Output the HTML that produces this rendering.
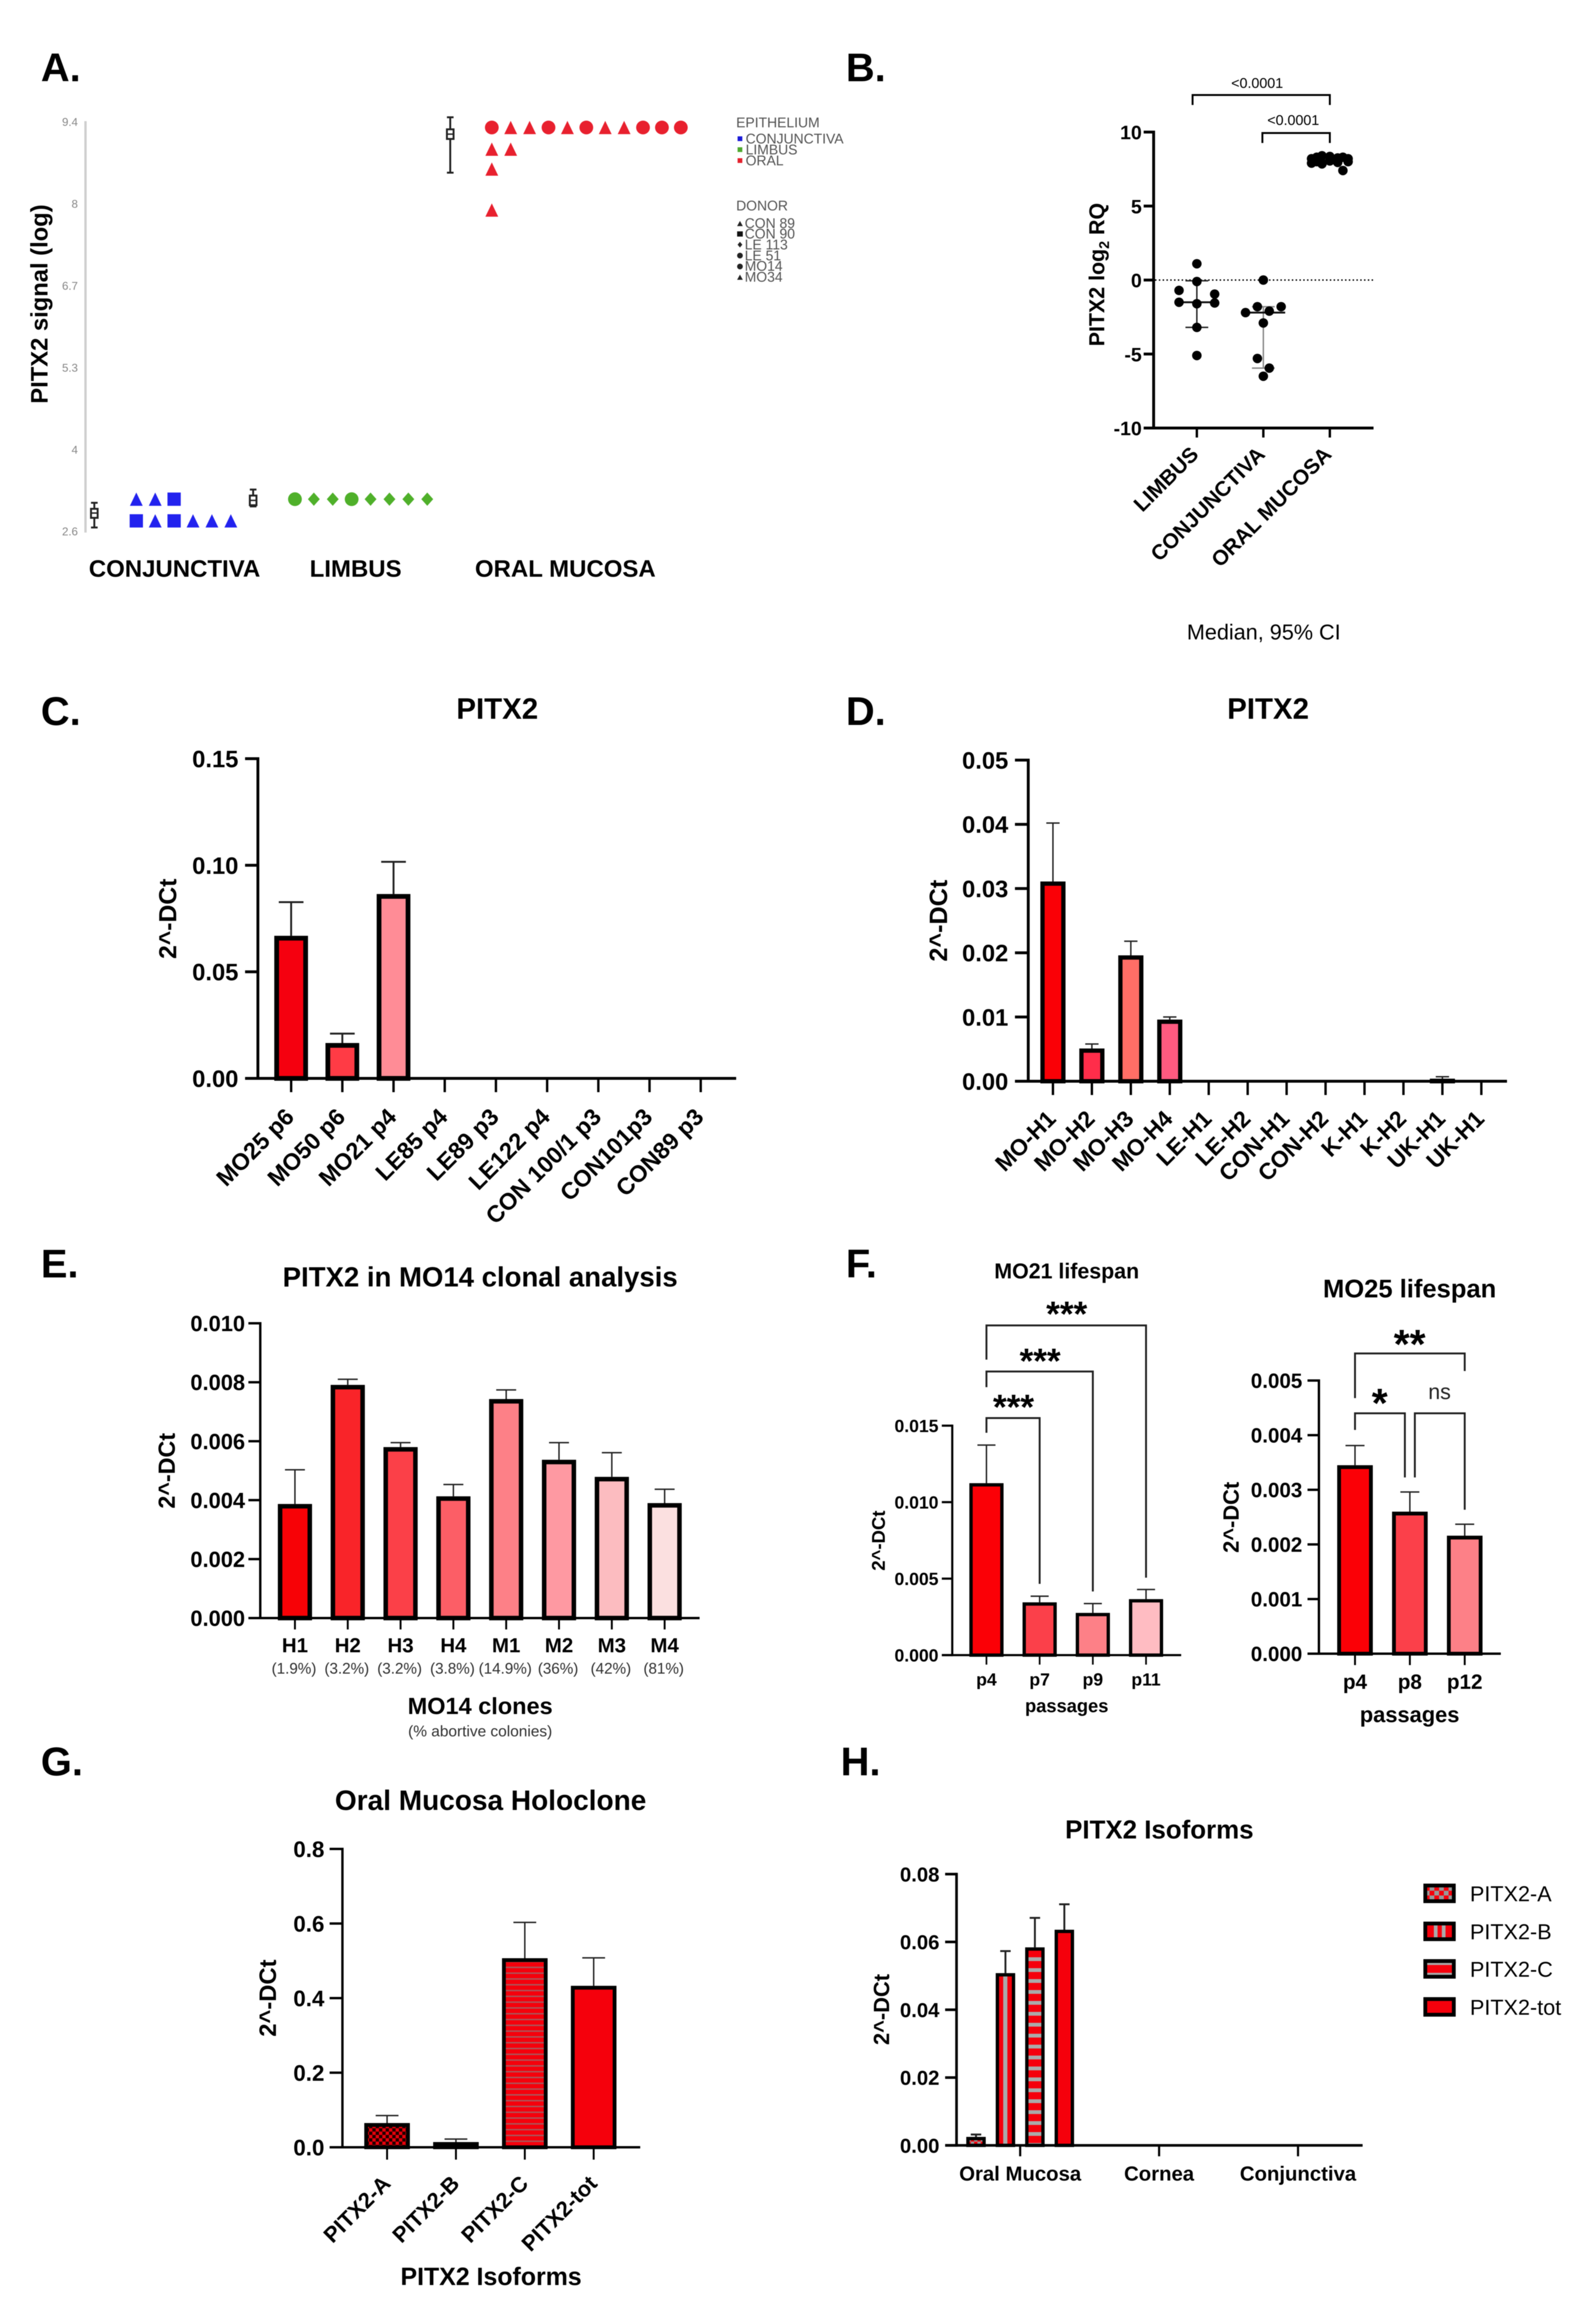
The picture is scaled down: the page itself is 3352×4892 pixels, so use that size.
<!DOCTYPE html>
<html lang="en">
<head>
<meta charset="utf-8">
<title>PITX2 expression figure</title>
<style>
html,body{margin:0;padding:0;background:#fff;}
svg{display:block;font-family:"Liberation Sans",Arial,sans-serif;filter:blur(0.7px);}
text{fill:#000;}
.pl{font-size:84px;font-weight:700;}
.b{font-weight:700;}
</style>
</head>
<body>
<svg id="fig" xmlns="http://www.w3.org/2000/svg" width="3352" height="4892" viewBox="0 0 3352 4892">
<defs>
<pattern id="checkG" width="14" height="14" patternUnits="userSpaceOnUse"><rect width="14" height="14" fill="#e8000a"/><rect width="7" height="7" fill="#200"/><rect x="7" y="7" width="7" height="7" fill="#200"/></pattern>
<pattern id="stripeG" width="12.2" height="12.2" patternUnits="userSpaceOnUse"><rect width="12.2" height="12.2" fill="#f5000c"/><rect y="4" width="12.2" height="3" fill="#a8585c"/></pattern>
<pattern id="checkH" width="14" height="14" patternUnits="userSpaceOnUse"><rect width="14" height="14" fill="#f5000c"/><rect width="7" height="7" fill="#999"/><rect x="7" y="7" width="7" height="7" fill="#999"/></pattern>
<pattern id="legA" width="20" height="20" patternUnits="userSpaceOnUse"><rect width="20" height="20" fill="#f5000c"/><rect width="10" height="10" fill="#999"/><rect x="10" y="10" width="10" height="10" fill="#999"/></pattern>
<pattern id="vertH" width="1" height="1" patternContentUnits="objectBoundingBox"><rect width="1" height="1" fill="#f5000c"/><rect x="0.36" width="0.26" height="1" fill="#aaa"/></pattern>
<pattern id="horzH" width="23" height="23" patternUnits="userSpaceOnUse"><rect width="23" height="23" fill="#f5000c"/><rect y="3" width="23" height="8" fill="#aaa"/></pattern>
<pattern id="legB" width="1" height="1" patternContentUnits="objectBoundingBox"><rect width="1" height="1" fill="#f5000c"/><rect x="0.3" width="0.13" height="1" fill="#aaa"/><rect x="0.58" width="0.13" height="1" fill="#aaa"/></pattern>
<pattern id="legC" width="1" height="1" patternContentUnits="objectBoundingBox"><rect width="1" height="1" fill="#f5000c"/><rect width="1" height="0.25" fill="#aaa"/><rect y="0.75" width="1" height="0.25" fill="#aaa"/></pattern>
</defs>

<text class="pl" x="86" y="171">A.</text>
<text class="pl" x="1781" y="171">B.</text>
<text class="pl" x="86" y="1526">C.</text>
<text class="pl" x="1781" y="1526">D.</text>
<text class="pl" x="86" y="2689">E.</text>
<text class="pl" x="1781" y="2689">F.</text>
<text class="pl" x="86" y="3737">G.</text>
<text class="pl" x="1770" y="3737">H.</text>

<g id="panel-a">
  <text class="b" font-size="50" text-anchor="middle" transform="translate(100,640) rotate(-90)">PITX2 signal (log)</text>
  <g font-size="29.3">
    <text style="fill:#555" x="1550" y="268">EPITHELIUM</text>
    <rect x="1553" y="287" width="10" height="10" fill="#1a1ad8"/><text style="fill:#555" x="1570" y="302">CONJUNCTIVA</text>
    <rect x="1553" y="310" width="10" height="10" fill="#4fa82e"/><text style="fill:#555" x="1570" y="325">LIMBUS</text>
    <rect x="1553" y="333" width="10" height="10" fill="#e3202c"/><text style="fill:#555" x="1570" y="348">ORAL</text>
  </g>
  <g font-size="29.3">
    <text style="fill:#555" x="1550" y="443">DONOR</text>
    <polygon points="1552,476 1564,476 1558,465" fill="#222"/><text style="fill:#555" x="1568" y="480">CON 89</text>
    <rect x="1552" y="487" width="12" height="11" fill="#111"/><text style="fill:#555" x="1568" y="502">CON 90</text>
    <polygon points="1558,509 1563,515 1558,521 1553,515" fill="#222"/><text style="fill:#555" x="1568" y="525">LE 113</text>
    <circle cx="1558" cy="538" r="6" fill="#222"/><text style="fill:#555" x="1568" y="548">LE 51</text>
    <circle cx="1558" cy="561" r="6" fill="#222"/><text style="fill:#555" x="1568" y="570">MO14</text>
    <polygon points="1552,589 1564,589 1558,578" fill="#222"/><text style="fill:#555" x="1568" y="593">MO34</text>
  </g>
</g>

<g id="panel-b">
  <text class="b" font-size="45" text-anchor="middle" transform="translate(2325,578) rotate(-90)">PITX2 log<tspan font-size="30" dy="10">2</tspan><tspan dy="-10"> RQ</tspan></text>
  <path d="M2511,221 V200 H2800 V221" fill="none" stroke="#000" stroke-width="4"/>
  <text font-size="30" text-anchor="middle" x="2647" y="185">&lt;0.0001</text>
  <path d="M2658,301 V280 H2800 V301" fill="none" stroke="#000" stroke-width="4"/>
  <text font-size="30" text-anchor="middle" x="2723" y="263">&lt;0.0001</text>
  <text font-size="45.5" x="2499" y="1346">Median, 95% CI</text>
</g>

<g id="panel-c">
  <text class="b" font-size="62" text-anchor="middle" x="1047" y="1513">PITX2</text>
  <text class="b" font-size="52" text-anchor="middle" transform="translate(371,1934) rotate(-90)">2^-DCt</text>
</g>

<g id="panel-d">
  <text class="b" font-size="62" text-anchor="middle" x="2670" y="1513">PITX2</text>
  <text class="b" font-size="53" text-anchor="middle" transform="translate(1994,1938) rotate(-90)">2^-DCt</text>
</g>

<g id="panel-e">
  <text class="b" font-size="58" text-anchor="middle" x="1011" y="2708">PITX2 in MO14 clonal analysis</text>
  <text class="b" font-size="49" text-anchor="middle" transform="translate(368,3096) rotate(-90)">2^-DCt</text>
  <text class="b" font-size="49.5" text-anchor="middle" x="1011" y="3608">MO14 clones</text>
  <text font-size="32.5" text-anchor="middle" x="1011" y="3655" style="fill:#333">(% abortive colonies)</text>
</g>

<g id="panel-f1">
  <text class="b" font-size="45" text-anchor="middle" x="2246" y="2691">MO21 lifespan</text>
  <text class="b" font-size="39" text-anchor="middle" transform="translate(1863,3243) rotate(-90)">2^-DCt</text>
  <text class="b" font-size="38.5" text-anchor="middle" x="2246" y="3604">passages</text>
  <path d="M2077,3016 V2985 H2189 V3334" fill="none" stroke="#222" stroke-width="4"/>
  <path d="M2077,2920 V2887 H2301 V3350" fill="none" stroke="#222" stroke-width="4"/>
  <path d="M2077,2862 V2790 H2413 V3321" fill="none" stroke="#222" stroke-width="4"/>
  <text class="b" font-size="74" text-anchor="middle" x="2134" y="2987">***</text>
  <text class="b" font-size="74" text-anchor="middle" x="2190" y="2890">***</text>
  <text class="b" font-size="74" text-anchor="middle" x="2246" y="2791">***</text>
</g>

<g id="panel-f2">
  <text class="b" font-size="53.8" text-anchor="middle" x="2968" y="2731">MO25 lifespan</text>
  <text class="b" font-size="46" text-anchor="middle" transform="translate(2608,3194) rotate(-90)">2^-DCt</text>
  <text class="b" font-size="46" text-anchor="middle" x="2968" y="3625">passages</text>
  <path d="M2853,3010 V2975 H2958 V3110" fill="none" stroke="#222" stroke-width="4"/>
  <path d="M2979,3110 V2975 H3084 V3178" fill="none" stroke="#222" stroke-width="4"/>
  <path d="M2853,2943 V2849 H3084 V2886" fill="none" stroke="#222" stroke-width="4"/>
  <text class="b" font-size="86" text-anchor="middle" x="2968" y="2859">**</text>
  <text class="b" font-size="86" text-anchor="middle" x="2905" y="2983">*</text>
  <text font-size="45" text-anchor="middle" x="3031" y="2945" style="fill:#222">ns</text>
</g>

<g id="panel-g">
  <text class="b" font-size="59" text-anchor="middle" x="1033" y="3810">Oral Mucosa Holoclone</text>
  <text class="b" font-size="50" text-anchor="middle" transform="translate(581,4206) rotate(-90)">2^-DCt</text>
  <text class="b" font-size="52.4" text-anchor="middle" x="1034" y="4810">PITX2 Isoforms</text>
</g>

<g id="panel-h">
  <text class="b" font-size="54.5" text-anchor="middle" x="2441" y="3870">PITX2 Isoforms</text>
  <text class="b" font-size="46" text-anchor="middle" transform="translate(1872,4230) rotate(-90)">2^-DCt</text>
  <g font-size="45.5">
    <rect x="3001" y="3969" width="60" height="33" fill="url(#legA)" stroke="#000" stroke-width="8"/>
    <text x="3095" y="4002">PITX2-A</text>
    <rect x="3001" y="4049" width="60" height="33" fill="url(#legB)" stroke="#000" stroke-width="8"/>
    <text x="3095" y="4082">PITX2-B</text>
    <rect x="3001" y="4128" width="60" height="33" fill="url(#legC)" stroke="#000" stroke-width="8"/>
    <text x="3095" y="4161">PITX2-C</text>
    <rect x="3001" y="4208" width="60" height="33" fill="#f5000c" stroke="#000" stroke-width="8"/>
    <text x="3095" y="4241">PITX2-tot</text>
  </g>
</g>
</svg>

<script>
/* ---------- Panel A data ---------- */
const aTickValues = [9.4, 8.04, 6.68, 5.32, 3.96, 2.6];
const aTickLabels = ['9.4', '8', '6.7', '5.3', '4', '2.6'];
const aConjValues = [3.14, 3.14, 3.14, 2.78, 2.78, 2.78, 2.78, 2.78, 2.78];
const aConjShapes = ['triangle', 'triangle', 'square', 'square', 'triangle', 'square', 'triangle', 'triangle', 'triangle'];
const aLimbusValues = [3.14, 3.14, 3.14, 3.14, 3.14, 3.14, 3.14, 3.14];
const aLimbusShapes = ['circle', 'diamond', 'diamond', 'circle', 'diamond', 'diamond', 'diamond', 'diamond'];
const aOralValues = [9.31, 9.31, 9.31, 9.31, 9.31, 9.31, 9.31, 9.31, 9.31, 9.31, 9.31, 8.95, 8.95, 8.62, 7.94];
const aOralShapes = ['circle', 'triangle', 'triangle', 'circle', 'triangle', 'circle', 'triangle', 'triangle', 'circle', 'circle', 'circle', 'triangle', 'triangle', 'triangle', 'triangle'];
const aGroupLabels = ['CONJUNCTIVA', 'LIMBUS', 'ORAL MUCOSA'];
const aBoxLow = [2.67, 3.02, 8.56];
const aBoxQ1 = [2.83, 3.04, 9.12];
const aBoxMedian = [2.91, 3.12, 9.20];
const aBoxQ3 = [2.98, 3.20, 9.28];
const aBoxHigh = [3.08, 3.30, 9.48];

/* ---------- Panel B data ---------- */
const bTicks = ['10', '5', '0', '-5', '-10'];
const bCategories = ['LIMBUS', 'CONJUNCTIVA', 'ORAL MUCOSA'];
const bLimbus = [1.1, -0.7, -0.1, -0.95, -1.5, -1.6, -1.55, -3.2, -5.1];
const bConjunctiva = [0, -2.2, -1.8, -2.1, -1.8, -2.9, -5.3, -5.95, -6.5];
const bOral = [8.2, 8.3, 8.4, 8.35, 8.25, 8.3, 8.2, 7.9, 8.0, 7.85, 8.05, 7.95, 7.4, 8.0];
const bMedians = [-1.5, -2.2, 8.1];
const bCiLow = [-3.2, -5.95, 7.9];
const bCiHigh = [-0.05, -1.8, 8.3];

/* ---------- Panel C data ---------- */
const cTicks = ['0.15', '0.10', '0.05', '0.00'];
const cCategories = ['MO25 p6', 'MO50 p6', 'MO21 p4', 'LE85 p4', 'LE89 p3', 'LE122 p4', 'CON 100/1 p3', 'CON101p3', 'CON89 p3'];
const cValues = [0.0669, 0.0166, 0.0865, 0, 0, 0, 0, 0, 0];
const cUpper = [0.0827, 0.021, 0.1016, 0, 0, 0, 0, 0, 0];
const cFills = ['#f5000f', '#ff3b45', '#ff8c96'];

/* ---------- Panel D data ---------- */
const dTicks = ['0.05', '0.04', '0.03', '0.02', '0.01', '0.00'];
const dCategories = ['MO-H1', 'MO-H2', 'MO-H3', 'MO-H4', 'LE-H1', 'LE-H2', 'CON-H1', 'CON-H2', 'K-H1', 'K-H2', 'UK-H1', 'UK-H1'];
const dValues = [0.0311, 0.0051, 0.0196, 0.0096, 0, 0, 0, 0, 0, 0, 0.0004, 0];
const dUpper = [0.0402, 0.0058, 0.0218, 0.0100, 0, 0, 0, 0, 0, 0, 0.0007, 0];
const dFills = ['#fa0006', '#ff2d4a', '#ff6e66', '#ff5a80', '#000', '#000', '#000', '#000', '#000', '#000', '#000', '#000'];

/* ---------- Panel E data ---------- */
const eTicks = ['0.010', '0.008', '0.006', '0.004', '0.002', '0.000'];
const eCategories = ['H1', 'H2', 'H3', 'H4', 'M1', 'M2', 'M3', 'M4'];
const eSubLabels = ['(1.9%)', '(3.2%)', '(3.2%)', '(3.8%)', '(14.9%)', '(36%)', '(42%)', '(81%)'];
const eValues = [0.00387, 0.00791, 0.0058, 0.00413, 0.00743, 0.00537, 0.00479, 0.0039];
const eUpper = [0.00503, 0.0081, 0.00595, 0.00453, 0.00774, 0.00595, 0.00561, 0.00437];
const eFills = ['#f70206', '#f92429', '#fb4048', '#fc5e66', '#fd8087', '#fe99a2', '#fcbcc0', '#fbe0e0'];

/* ---------- Panel F data ---------- */
const f1Ticks = ['0.015', '0.010', '0.005', '0.000'];
const f1Categories = ['p4', 'p7', 'p9', 'p11'];
const f1Values = [0.01124, 0.00345, 0.00276, 0.00366];
const f1Upper = [0.01373, 0.00385, 0.00337, 0.00429];
const f1Fills = ['#fb0006', '#fb404a', '#fd8087', '#ffbcc2'];
const f2Ticks = ['0.005', '0.004', '0.003', '0.002', '0.001', '0.000'];
const f2Categories = ['p4', 'p8', 'p12'];
const f2Values = [0.00345, 0.0026, 0.00216];
const f2Upper = [0.00381, 0.00296, 0.00237];
const f2Fills = ['#fb0006', '#fb404a', '#fd8087'];

/* ---------- Panel G data ---------- */
const gTicks = ['0.8', '0.6', '0.4', '0.2', '0.0'];
const gCategories = ['PITX2-A', 'PITX2-B', 'PITX2-C', 'PITX2-tot'];
const gValues = [0.065, 0.014, 0.507, 0.433];
const gUpper = [0.085, 0.022, 0.603, 0.508];
const gFills = ['url(#checkG)', '#111', 'url(#stripeG)', '#f5000c'];

/* ---------- Panel H data ---------- */
const hTicks = ['0.08', '0.06', '0.04', '0.02', '0.00'];
const hCategories = ['Oral Mucosa', 'Cornea', 'Conjunctiva'];
const hIsoA = [0.0025, 0, 0];
const hIsoB = [0.0508, 0, 0];
const hIsoC = [0.0584, 0, 0];
const hIsoTot = [0.0636, 0, 0];
const hIsoAUpper = [0.0032, 0, 0];
const hIsoBUpper = [0.0573, 0, 0];
const hIsoCUpper = [0.0671, 0, 0];
const hIsoTotUpper = [0.0711, 0, 0];
const hFills = ['url(#checkH)', 'url(#vertH)', 'url(#horzH)', '#f5000c'];

/* ---------- helpers ---------- */
const NS = 'http://www.w3.org/2000/svg';
function make(tag, attrs, parent, text) {
  const el = document.createElementNS(NS, tag);
  for (const k in attrs) el.setAttribute(k, attrs[k]);
  if (text !== undefined) el.textContent = text;
  parent.appendChild(el);
  return el;
}
function byId(id) { return document.getElementById(id); }

/* axes common to every bar chart; returns the value->pixel function */
function drawAxes(g, c) {
  const y = v => c.bottom - (v / c.yMax) * (c.bottom - c.top);
  const yAxis = make('line', {x1: c.axisX, x2: c.axisX, y1: c.top - c.axisW / 2, y2: c.bottom + c.axisW / 2, stroke: '#000', 'stroke-width': c.axisW}, g);
  
  
  const xAxis = make('line', {x1: c.tickLeft, x2: c.axisEnd, y1: c.bottom, y2: c.bottom, stroke: '#000', 'stroke-width': c.axisW}, g);
  
  
  c.ticks.forEach(t => {
    const tick = make('line', {x1: c.tickLeft, x2: c.axisX, y1: y(Number(t)), y2: y(Number(t)), stroke: '#000', 'stroke-width': c.axisW}, g);
    
    
    const label = make('text', {x: c.tickLabelX, y: y(Number(t)) + c.tickFont * 0.36, 'text-anchor': 'end', 'font-size': c.tickFont, 'font-weight': 700}, g, t);
    
    
  });
  return y;
}
function drawBar(g, c, y, cx, value, upper, fill) {
  if (value <= 0) return;
  const top = y(value), s = c.stroke;
  const bar = make('rect', {x: cx - c.barW / 2 + s / 2, y: top + s / 2, width: c.barW - s, height: Math.max(c.bottom - top - s / 2, 0.5), fill: fill, stroke: '#000', 'stroke-width': s}, g);
  
  
  const err = make('path', {d: 'M' + cx + ',' + top + ' V' + y(upper) + ' M' + (cx - c.capHalf) + ',' + y(upper) + ' H' + (cx + c.capHalf), fill: 'none', stroke: '#222', 'stroke-width': c.errW}, g);
  
  
}
function drawXTick(g, c, cx) {
  const tick = make('line', {x1: cx, x2: cx, y1: c.bottom, y2: c.bottom + c.xTickLen, stroke: '#000', 'stroke-width': c.axisW - 1}, g);
  
  
}
function drawCategoryLabel(g, c, cx, text) {
  const attrs = {'font-size': c.catFont, 'font-weight': 700};
  if (c.rotated) {
    const px = cx + c.catDx, py = c.bottom + c.catDy;
    attrs.x = px; attrs.y = py; attrs['text-anchor'] = 'end'; attrs.transform = 'rotate(-45 ' + px + ' ' + py + ')';
  } else {
    attrs.x = cx; attrs.y = c.bottom + c.catDy; attrs['text-anchor'] = 'middle';
  }
  const label = make('text', attrs, g, text);
  
  
}
function simpleBarChart(gid, c, categories, values, upper, fills) {
  const g = byId(gid);
  const y = drawAxes(g, c);
  const x = i => c.x0 + i * c.step;
  values.forEach((v, i) => {
    drawBar(g, c, y, x(i), v, upper[i], fills[i % fills.length]);
    drawXTick(g, c, x(i));
    drawCategoryLabel(g, c, x(i), categories[i]);
  });
}

/* ---------- Panel A ---------- */
(function () {
  const g = byId('panel-a');
  const yA = v => 257 + (9.4 - v) * 126.8;
  const axis = make('line', {x1: 180, x2: 180, y1: 255, y2: 1121, stroke: '#cfcfcf', 'stroke-width': 5}, g);
  
  
  aTickValues.forEach((t, i) => {
    const label = make('text', {x: 164, y: yA(t) + 8, 'text-anchor': 'end', 'font-size': 24, style: 'fill:#888'}, g, aTickLabels[i]);
    
    
  });
  function marker(shape, cx, cy, color) {
    let el;
    if (shape === 'triangle') {
      el = make('polygon', {points: (cx - 13.5) + ',' + (cy + 14) + ' ' + (cx + 13.5) + ',' + (cy + 14) + ' ' + cx + ',' + (cy - 14), fill: color}, g);
    } else if (shape === 'square') {
      el = make('rect', {x: cx - 14, y: cy - 14, width: 28, height: 28, fill: color}, g);
    } else if (shape === 'diamond') {
      el = make('polygon', {points: cx + ',' + (cy - 14) + ' ' + (cx + 12.5) + ',' + cy + ' ' + cx + ',' + (cy + 14) + ' ' + (cx - 12.5) + ',' + cy, fill: color}, g);
    } else {
      el = make('circle', {cx: cx, cy: cy, r: 14.5, fill: color}, g);
    }
    
    
  }
  function dotGroup(values, shapes, x0, color) {
    const seen = {};
    values.forEach((v, i) => {
      const rank = seen[v] || 0;
      seen[v] = rank + 1;
      marker(shapes[i], x0 + rank * 39.8, yA(v), color);
    });
  }
  dotGroup(aConjValues, aConjShapes, 287, '#2222ee');
  dotGroup(aLimbusValues, aLimbusShapes, 621, '#4fb02a');
  dotGroup(aOralValues, aOralShapes, 1035.5, '#e8202e');
  [198.6, 533, 948].forEach((bx, i) => {
    const path = 'M' + bx + ',' + yA(aBoxLow[i]) + ' V' + yA(aBoxHigh[i]) +
      ' M' + (bx - 7) + ',' + yA(aBoxLow[i]) + ' H' + (bx + 7) +
      ' M' + (bx - 7) + ',' + yA(aBoxHigh[i]) + ' H' + (bx + 7);
    const whisker = make('path', {d: path, fill: 'none', stroke: '#222', 'stroke-width': 4}, g);
    
    
    const box = make('rect', {x: bx - 7, y: yA(aBoxQ3[i]), width: 14, height: yA(aBoxQ1[i]) - yA(aBoxQ3[i]), fill: '#fff', stroke: '#222', 'stroke-width': 4}, g);
    
    
    const median = make('line', {x1: bx - 7, x2: bx + 7, y1: yA(aBoxMedian[i]), y2: yA(aBoxMedian[i]), stroke: '#222', 'stroke-width': 3}, g);
    
    
  });
  [187, 652, 1000].forEach((lx, i) => {
    const label = make('text', {x: lx, y: 1214, 'font-size': 50.5, 'font-weight': 700}, g, aGroupLabels[i]);
    
    
  });
})();

/* ---------- Panel B ---------- */
(function () {
  const g = byId('panel-b');
  const yB = v => 589.5 - v * 31.15;
  const xB = i => 2520 + i * 140;
  const yAxis = make('line', {x1: 2429, x2: 2429, y1: yB(10) - 3, y2: yB(-10) + 3, stroke: '#000', 'stroke-width': 6}, g);
  
  
  const xAxis = make('line', {x1: 2408, x2: 2892, y1: yB(-10), y2: yB(-10), stroke: '#000', 'stroke-width': 6}, g);
  
  
  const zero = make('line', {x1: 2432, x2: 2892, y1: yB(0), y2: yB(0), stroke: '#000', 'stroke-width': 3, 'stroke-dasharray': '3 5'}, g);
  
  
  bTicks.forEach(t => {
    const tick = make('line', {x1: 2408, x2: 2429, y1: yB(Number(t)), y2: yB(Number(t)), stroke: '#000', 'stroke-width': 6}, g);
    
    
    const label = make('text', {x: 2404, y: yB(Number(t)) + 15, 'text-anchor': 'end', 'font-size': 41, 'font-weight': 700}, g, t);
    
    
  });
  bCategories.forEach((name, i) => {
    const tick = make('line', {x1: xB(i), x2: xB(i), y1: yB(-10), y2: yB(-10) + 20, stroke: '#000', 'stroke-width': 5}, g);
    
    
    const px = xB(i) + 6, py = yB(-10) + 58;
    const label = make('text', {x: px, y: py, 'text-anchor': 'end', 'font-size': 44.5, 'font-weight': 700, transform: 'rotate(-45 ' + px + ' ' + py + ')'}, g, name);
    
    
  });
  const statColors = ['#222', '#888', '#222'];
  bMedians.forEach((m, i) => {
    const cx = xB(i);
    const ci = make('path', {d: 'M' + cx + ',' + yB(bCiHigh[i]) + ' V' + yB(bCiLow[i]) + ' M' + (cx - 24) + ',' + yB(bCiHigh[i]) + ' H' + (cx + 24) + ' M' + (cx - 24) + ',' + yB(bCiLow[i]) + ' H' + (cx + 24), fill: 'none', stroke: statColors[i], 'stroke-width': 3}, g);
    
    
    const med = make('line', {x1: cx - 46, x2: cx + 46, y1: yB(m), y2: yB(m), stroke: '#111', 'stroke-width': 4}, g);
    
    
  });
  /* binned swarm: points in one value bin spread symmetrically around the category */
  function swarm(values, cx, unit) {
    const bins = {};
    values.forEach(v => {
      const key = Math.floor((v + 1) / 1.3);
      (bins[key] = bins[key] || []).push(v);
    });
    Object.keys(bins).forEach(key => {
      const list = bins[key], n = list.length, slots = [];
      if (n % 2 === 0) {
        for (let k = n - 1; k > 0; k -= 2) { slots.push(-k); slots.push(k); }
      } else {
        for (let k = n; k > 1; k -= 2) { slots.push(-k); slots.push(k); }
        slots.push(0);
      }
      slots.sort((a, b) => a - b);
      list.forEach((v, i) => {
        const dot = make('circle', {cx: cx + slots[i] * unit, cy: yB(v), r: 10, fill: '#000'}, g);
        
        
      });
    });
  }
  swarm(bLimbus, xB(0), 12.5);
  swarm(bConjunctiva, xB(1), 12.5);
  swarm(bOral, xB(2), 5.5);
})();

/* ---------- Panels C to G ---------- */
simpleBarChart('panel-c', {x0: 613, step: 107.8, barW: 71, stroke: 10, axisX: 543, axisEnd: 1550, tickLeft: 516, top: 1597, bottom: 2270, yMax: 0.15, ticks: cTicks, tickFont: 50, tickLabelX: 502, axisW: 6, xTickLen: 29, capHalf: 26, errW: 4, rotated: true, catFont: 49.5, catDx: 9, catDy: 84}, cCategories, cValues, cUpper, cFills);
simpleBarChart('panel-d', {x0: 2217, step: 82, barW: 53, stroke: 9, axisX: 2165, axisEnd: 3173, tickLeft: 2137, top: 1600, bottom: 2276, yMax: 0.05, ticks: dTicks, tickFont: 50, tickLabelX: 2123, axisW: 6, xTickLen: 29, capHalf: 14, errW: 3, rotated: true, catFont: 48.5, catDx: 9, catDy: 82}, dCategories, dValues, dUpper, dFills);
simpleBarChart('panel-e', {x0: 621, step: 111.2, barW: 72, stroke: 9.5, axisX: 548, axisEnd: 1473, tickLeft: 523, top: 2785.5, bottom: 3406, yMax: 0.01, ticks: eTicks, tickFont: 46, tickLabelX: 516, axisW: 5, xTickLen: 24, capHalf: 21, errW: 3, rotated: false, catFont: 43, catDy: 72}, eCategories, eValues, eUpper, eFills);
(function () {
  const g = byId('panel-e');
  eSubLabels.forEach((t, i) => {
    const label = make('text', {x: 621 + i * 111.2 - 2, y: 3523, 'text-anchor': 'middle', 'font-size': 32, style: 'fill:#333'}, g, t);
    
    
  });
})();
simpleBarChart('panel-f1', {x0: 2077, step: 112, barW: 72, stroke: 7, axisX: 2005, axisEnd: 2487, tickLeft: 1983, top: 3001, bottom: 3484, yMax: 0.015, ticks: f1Ticks, tickFont: 37, tickLabelX: 1976, axisW: 4.5, xTickLen: 20, capHalf: 19, errW: 3, rotated: false, catFont: 37, catDy: 64}, f1Categories, f1Values, f1Upper, f1Fills);
simpleBarChart('panel-f2', {x0: 2853, step: 115.5, barW: 75, stroke: 8, axisX: 2777, axisEnd: 3160, tickLeft: 2753, top: 2906, bottom: 3481, yMax: 0.005, ticks: f2Ticks, tickFont: 43.3, tickLabelX: 2742, axisW: 5, xTickLen: 24, capHalf: 20, errW: 3, rotated: false, catFont: 43.5, catDy: 74}, f2Categories, f2Values, f2Upper, f2Fills);
simpleBarChart('panel-g', {x0: 815, step: 145, barW: 96, stroke: 8, axisX: 721, axisEnd: 1348, tickLeft: 694, top: 3892, bottom: 4520, yMax: 0.8, ticks: gTicks, tickFont: 47, tickLabelX: 683, axisW: 5, xTickLen: 26, capHalf: 24, errW: 3, rotated: true, catFont: 46, catDx: 10, catDy: 79}, gCategories, gValues, gUpper, gFills);

/* ---------- Panel H ---------- */
(function () {
  const g = byId('panel-h');
  const c = {barW: 41, stroke: 7, axisX: 2014, axisEnd: 2869, tickLeft: 1990, top: 3945, bottom: 4516, yMax: 0.08, ticks: hTicks, tickFont: 42.7, tickLabelX: 1978, axisW: 5.5, xTickLen: 23, capHalf: 11, errW: 4, rotated: false, catFont: 42.8, catDy: 74};
  const y = drawAxes(g, c);
  const groupX = i => 2148 + i * 292.5;
  const seriesValues = [hIsoA, hIsoB, hIsoC, hIsoTot];
  const seriesUpper = [hIsoAUpper, hIsoBUpper, hIsoCUpper, hIsoTotUpper];
  hCategories.forEach((name, i) => {
    drawXTick(g, c, groupX(i));
    drawCategoryLabel(g, c, groupX(i), name);
    seriesValues.forEach((series, s) => {
      drawBar(g, c, y, groupX(i) + (s - 1.5) * 62, series[i], seriesUpper[s][i], hFills[s]);
    });
  });
})();
</script>
</body>
</html>
